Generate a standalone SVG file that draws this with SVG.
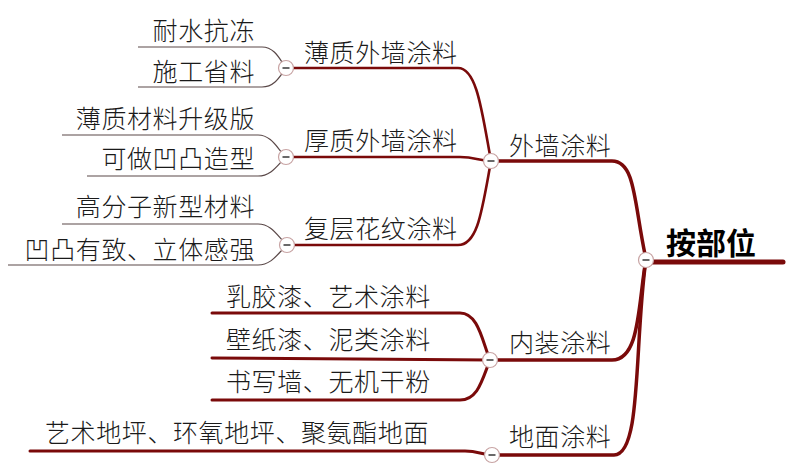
<svg xmlns="http://www.w3.org/2000/svg" width="796" height="474" viewBox="0 0 796 474">
<style>
.t{font-family:"Noto Sans CJK SC","Noto Sans",sans-serif;font-size:25px;font-weight:300;fill:#1a1a1a;letter-spacing:0.6px}
.root{font-family:"Noto Sans CJK SC","Noto Sans",sans-serif;font-size:30px;font-weight:bold;fill:#000}
.c{fill:none;stroke:#7a0a0a;stroke-linecap:round}
.l1{stroke-width:3.5}
.l2{stroke-width:2.6}
.l3{fill:none;stroke:#5a4848;stroke-width:1.2}
.btn circle{fill:#fff;stroke:#c8a4a4;stroke-width:1.2}
.btn line{stroke:#444;stroke-width:1.6}
</style>
<defs>
<g id="btn" class="btn"><circle cx="0" cy="0" r="7.5"/><line x1="-3.5" y1="0" x2="3.5" y2="0"/></g>
</defs>
<g id="connectors">
<path class="c" d="M783 262 L646 262" stroke-width="5" style="stroke:#7a0a0a;fill:none"/>
<path class="c l1" d="M646 259 C634 205 636 161 612 161 L492 161"/>
<path class="c l1" d="M646 259 C638 305 640 360 612 360 L490 360"/>
<path class="c l1" d="M646 259 C634 345 642 455 614 455 L492 455"/>
<path class="c l2" d="M286 68 L458 68 C477 68 482 112 491 161"/>
<path class="c l2" d="M286 157 L460 157 C475 157 480 161 491 161"/>
<path class="c l2" d="M287 245 L458 245 C478 245 482 210 491 161"/>
<path class="c l2" style="stroke-width:3" d="M212 313 L460 313 C478 313 482 340 490 360"/>
<path class="c l2" style="stroke-width:3" d="M212 358 L490 360"/>
<path class="c l2" style="stroke-width:3" d="M212 400 L460 400 C478 400 482 380 490 360"/>
<path class="c l2" style="stroke-width:3" d="M30 451 L465 451 C478 451 483 455 492 455"/>
<path class="l3" d="M138 47 L262 47 C275 47 280 60 286 68"/>
<path class="l3" d="M138 87 L262 87 C275 87 280 76 286 68"/>
<path class="l3" d="M62 135 L258 135 C272 135 278 150 286 157"/>
<path class="l3" d="M87 176 L258 176 C272 176 278 164 286 157"/>
<path class="l3" d="M62 224 L258 224 C272 224 278 237 287 245"/>
<path class="l3" d="M8 265 L258 265 C272 265 278 253 287 245"/>
</g>
<g id="n-root"><text class="root" x="666" y="254">按部位</text><use href="#btn" x="646" y="260"/></g>
<g id="n-waiqiang"><text class="t" x="509" y="155">外墙涂料</text><use href="#btn" x="491" y="161"/></g>
<g id="n-neizhuang"><text class="t" x="509" y="352">内装涂料</text><use href="#btn" x="490" y="360"/></g>
<g id="n-dimian"><text class="t" x="509" y="446">地面涂料</text><use href="#btn" x="492" y="455"/></g>
<g id="n-boz"><text class="t" x="304" y="62">薄质外墙涂料</text><use href="#btn" x="286" y="68"/></g>
<g id="n-houz"><text class="t" x="304" y="150">厚质外墙涂料</text><use href="#btn" x="286" y="157"/></g>
<g id="n-fuc"><text class="t" x="304" y="238">复层花纹涂料</text><use href="#btn" x="287" y="245"/></g>
<g id="n-l1"><text class="t" x="255" y="40" text-anchor="end">耐水抗冻</text></g>
<g id="n-l2"><text class="t" x="255" y="81" text-anchor="end">施工省料</text></g>
<g id="n-l3"><text class="t" x="255" y="128" text-anchor="end">薄质材料升级版</text></g>
<g id="n-l4"><text class="t" x="255" y="168" text-anchor="end">可做凹凸造型</text></g>
<g id="n-l5"><text class="t" x="255" y="216" text-anchor="end">高分子新型材料</text></g>
<g id="n-l6"><text class="t" x="255" y="259" text-anchor="end">凹凸有致、立体感强</text></g>
<g id="n-r1"><text class="t" x="226" y="306">乳胶漆、艺术涂料</text></g>
<g id="n-r2"><text class="t" x="226" y="349">壁纸漆、泥类涂料</text></g>
<g id="n-r3"><text class="t" x="226" y="391">书写墙、无机干粉</text></g>
<g id="n-d1"><text class="t" x="45" y="442">艺术地坪、环氧地坪、聚氨酯地面</text></g>
</svg>
